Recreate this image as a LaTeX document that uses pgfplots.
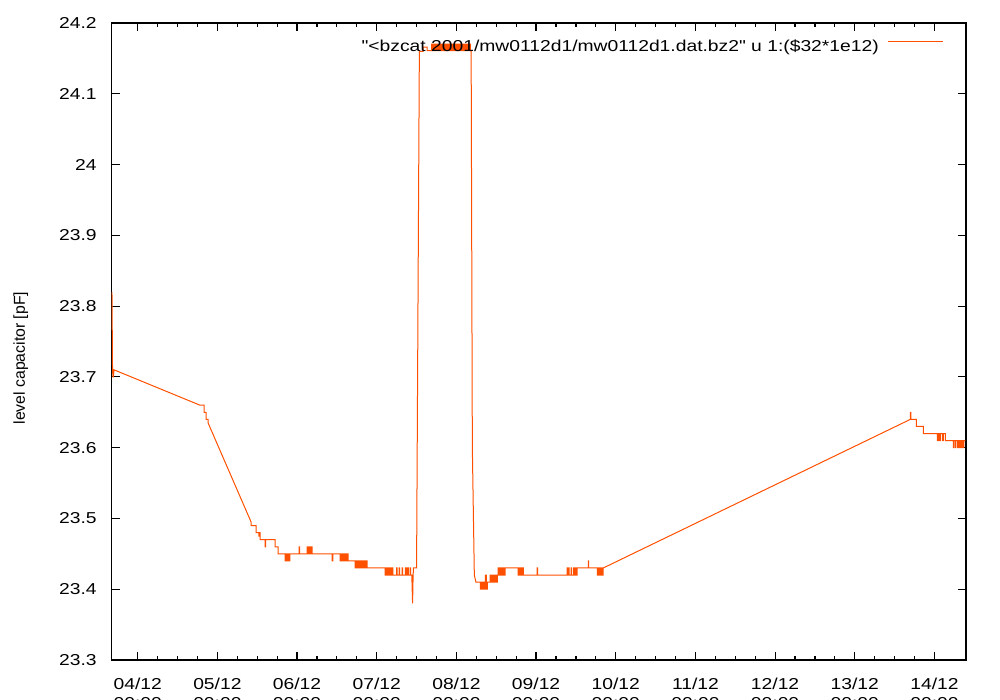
\documentclass[border=0pt]{standalone}
\usepackage{fontspec}
\setmainfont{Liberation Sans}[FakeStretch=1.22, Ligatures=TeXOff]
\newfontfamily\ylfont{Liberation Sans}[Ligatures=TeXOff]
\usepackage{pgfplots}
\pgfplotsset{compat=1.18}
\definecolor{gpline}{RGB}{255,80,0}
\begin{document}
\begin{tikzpicture}[font=\fontsize{7.9bp}{9.5bp}\selectfont]
\begin{axis}[
  at={(0,0)}, anchor=south west,
  scale only axis, width=427.15bp, height=318.5bp,
  xmin=-0.3265, xmax=10.396, ymin=23.3, ymax=24.2,
  xtick={0,1,2,3,4,5,6,7,8,9,10},
  xticklabels={04/12\\00:00,05/12\\00:00,06/12\\00:00,07/12\\00:00,08/12\\00:00,09/12\\00:00,10/12\\00:00,11/12\\00:00,12/12\\00:00,13/12\\00:00,14/12\\00:00},
  minor x tick num=3,
  ytick={23.3,23.4,23.5,23.6,23.7,23.8,23.9,24,24.1,24.2},
  yticklabels={23.3,23.4,23.5,23.6,23.7,23.8,23.9,24,24.1,24.2},
  tick align=inside, tick pos=both,
  major tick length=4bp, minor tick length=1.8bp,
  axis line style={line width=0.8bp},
  every tick/.style={black, line width=0.6bp},
  xticklabel style={align=center, yshift=-5.4bp},
  yticklabel style={xshift=-4bp},
  ylabel={level capacitor [pF]},
  ylabel style={at={(axis description cs:-0.1015,0.474)}, anchor=base, font=\ylfont\fontsize{7.9bp}{9.5bp}\selectfont},
  legend style={draw=none, fill=none, at={(axis description cs:0.9815,0.985)}, anchor=north east, nodes={inner sep=1.5bp}, column sep=3bp},
  legend plot pos=right, legend cell align=right,
  legend image code/.code={\draw[#1] (0bp,2.8bp) -- (27.5bp,2.8bp);},
]
\addplot[gpline, line width=0.5bp] coordinates {
(-0.323,23.82) (-0.316,23.71) (-0.311,23.70) (-0.305,23.70) (-0.298,23.71)
(0.782,23.66)
(0.833,23.66) (0.833,23.65) (0.858,23.65) (0.858,23.64) (0.883,23.64) (0.883,23.635)
(1.423,23.495) (1.423,23.49) (1.485,23.49) (1.485,23.48) (1.52,23.48) (1.52,23.475) (1.526,23.475) (1.526,23.48) (1.535,23.48) (1.535,23.47)
(1.598,23.47) (1.598,23.46) (1.604,23.46) (1.604,23.47)
(1.724,23.47) (1.724,23.46) (1.762,23.46) (1.762,23.45) (1.85,23.45)
(1.85,23.44) (1.862,23.44) (1.862,23.45) (1.874,23.45) (1.874,23.44) (1.886,23.44) (1.886,23.45) (1.898,23.45) (1.898,23.44) (1.91,23.44) (1.91,23.45)
(2.026,23.45) (2.026,23.46) (2.032,23.46) (2.032,23.45)
(2.126,23.45) (2.126,23.46) (2.138,23.46) (2.138,23.45) (2.150,23.45) (2.150,23.46) (2.162,23.46) (2.162,23.45) (2.174,23.45) (2.174,23.46) (2.189,23.46) (2.189,23.45)
(2.44,23.45) (2.44,23.44) (2.448,23.44) (2.448,23.45)
(2.541,23.45) (2.541,23.44) (2.553,23.44) (2.553,23.45) (2.565,23.45) (2.565,23.44) (2.577,23.44) (2.577,23.45) (2.589,23.45) (2.589,23.44) (2.601,23.44) (2.601,23.45) (2.613,23.45) (2.613,23.44) (2.625,23.44) (2.625,23.45) (2.641,23.45) (2.641,23.44)
(2.729,23.44) (2.729,23.43) (2.741,23.43) (2.741,23.44) (2.754,23.44) (2.754,23.43) (2.766,23.43) (2.766,23.44) (2.779,23.44) (2.779,23.43) (2.791,23.43) (2.791,23.44) (2.804,23.44) (2.804,23.43) (2.816,23.43) (2.816,23.44) (2.829,23.44) (2.829,23.43) (2.841,23.43) (2.841,23.44) (2.854,23.44) (2.854,23.43) (2.866,23.43) (2.866,23.44) (2.88,23.44) (2.88,23.43)
(3.106,23.43) (3.106,23.42) (3.118,23.42) (3.118,23.43) (3.130,23.43) (3.130,23.42) (3.142,23.42) (3.142,23.43) (3.154,23.43) (3.154,23.42) (3.166,23.42) (3.166,23.43) (3.178,23.43) (3.178,23.42) (3.190,23.42) (3.190,23.43) (3.202,23.43) (3.202,23.42)
(3.25,23.42) (3.25,23.43) (3.256,23.43) (3.256,23.42)
(3.28,23.42) (3.28,23.43) (3.286,23.43) (3.286,23.42)
(3.32,23.42) (3.32,23.43) (3.326,23.43) (3.326,23.42)
(3.36,23.42) (3.36,23.43) (3.372,23.43) (3.372,23.42) (3.384,23.42) (3.384,23.43) (3.396,23.43) (3.396,23.42)
(3.42,23.42) (3.42,23.43) (3.426,23.43) (3.426,23.42)
(3.44,23.42) (3.445,23.40) (3.45,23.38) (3.455,23.41) (3.46,23.43) (3.50,23.43) (3.535,24.16)
(3.583,24.16) (3.583,24.166) (3.633,24.166) (3.633,24.161)
(3.690,24.161) (3.690,24.17) (3.702,24.17) (3.702,24.161) (3.714,24.161) (3.714,24.17) (3.726,24.17) (3.726,24.161) (3.738,24.161) (3.738,24.17) (3.750,24.17) (3.750,24.161) (3.762,24.161) (3.762,24.17) (3.774,24.17) (3.774,24.161) (3.786,24.161) (3.786,24.17) (3.798,24.17) (3.798,24.161) (3.810,24.161) (3.810,24.17) (3.822,24.17) (3.822,24.161) (3.834,24.161) (3.834,24.17) (3.846,24.17) (3.846,24.161) (3.858,24.161) (3.858,24.17) (3.870,24.17) (3.870,24.161) (3.882,24.161) (3.882,24.17) (3.894,24.17) (3.894,24.161) (3.906,24.161) (3.906,24.17) (3.918,24.17) (3.918,24.161) (3.930,24.161) (3.930,24.17) (3.942,24.17) (3.942,24.161) (3.954,24.161) (3.954,24.17) (3.966,24.17) (3.966,24.161) (3.978,24.161) (3.978,24.17) (3.990,24.17) (3.990,24.161) (4.002,24.161) (4.002,24.17) (4.014,24.17) (4.014,24.161) (4.026,24.161) (4.026,24.17) (4.038,24.17) (4.038,24.161) (4.050,24.161) (4.050,24.17) (4.062,24.17) (4.062,24.161) (4.074,24.161) (4.074,24.17) (4.086,24.17) (4.086,24.161) (4.098,24.161) (4.098,24.17) (4.110,24.17) (4.110,24.161) (4.122,24.161) (4.122,24.17) (4.134,24.17) (4.134,24.161) (4.146,24.161) (4.146,24.17) (4.158,24.17) (4.158,24.161) (4.170,24.161) (4.170,24.17) (4.176,24.17) (4.176,24.161)
(4.185,24.16) (4.20,23.60) (4.225,23.42) (4.245,23.41) (4.30,23.41)
(4.30,23.40) (4.3125,23.40) (4.3125,23.41) (4.325,23.41) (4.325,23.40) (4.3375,23.40) (4.3375,23.41) (4.35,23.41) (4.35,23.40) (4.3625,23.40) (4.3625,23.42) (4.375,23.42) (4.375,23.40) (4.3875,23.40) (4.3875,23.41) (4.40,23.41)
(4.424,23.41) (4.424,23.42) (4.436,23.42) (4.436,23.41) (4.448,23.41) (4.448,23.42) (4.460,23.42) (4.460,23.41) (4.472,23.41) (4.472,23.42) (4.484,23.42) (4.484,23.41) (4.496,23.41) (4.496,23.42) (4.508,23.42) (4.508,23.41) (4.513,23.41) (4.513,23.42)
(4.525,23.42) (4.525,23.43) (4.537,23.43) (4.537,23.42) (4.549,23.42) (4.549,23.43) (4.561,23.43) (4.561,23.42) (4.573,23.42) (4.573,23.43) (4.585,23.43) (4.585,23.42) (4.597,23.42) (4.597,23.43) (4.609,23.43) (4.609,23.42) (4.612,23.42) (4.612,23.43)
(4.776,23.43) (4.776,23.42) (4.788,23.42) (4.788,23.43) (4.800,23.43) (4.800,23.42) (4.812,23.42) (4.812,23.43) (4.824,23.43) (4.824,23.42) (4.836,23.42) (4.836,23.43) (4.839,23.43) (4.839,23.42)
(5.014,23.42) (5.014,23.43) (5.02,23.43) (5.02,23.42)
(5.391,23.42) (5.391,23.43) (5.397,23.43) (5.397,23.42) (5.41,23.42) (5.41,23.43) (5.416,23.43) (5.416,23.42) (5.44,23.42) (5.44,23.43) (5.446,23.43) (5.446,23.42)
(5.47,23.42) (5.47,23.43) (5.482,23.43) (5.482,23.42) (5.494,23.42) (5.494,23.43) (5.506,23.43) (5.506,23.42) (5.516,23.42) (5.516,23.43)
(5.655,23.43) (5.655,23.44) (5.661,23.44) (5.661,23.43)
(5.768,23.43) (5.768,23.42) (5.780,23.42) (5.780,23.43) (5.792,23.43) (5.792,23.42) (5.804,23.42) (5.804,23.43) (5.816,23.43) (5.816,23.42) (5.828,23.42) (5.828,23.43) (5.840,23.43) (5.840,23.42) (5.843,23.42) (5.843,23.43)
(9.698,23.64) (9.698,23.65) (9.704,23.65) (9.704,23.64)
(9.774,23.64) (9.774,23.63) (9.862,23.63) (9.862,23.62)
(10.038,23.62) (10.038,23.61) (10.05,23.61) (10.05,23.62) (10.062,23.62) (10.062,23.61) (10.074,23.61) (10.074,23.62) (10.10,23.62) (10.10,23.61) (10.112,23.61) (10.112,23.62) (10.138,23.62) (10.138,23.61)
(10.239,23.61) (10.239,23.60) (10.245,23.60) (10.245,23.61) (10.262,23.61) (10.262,23.60) (10.268,23.60) (10.268,23.61) (10.29,23.61) (10.29,23.60) (10.296,23.60) (10.296,23.61) (10.31,23.61) (10.31,23.60) (10.322,23.60) (10.322,23.61) (10.334,23.61) (10.334,23.60) (10.346,23.60) (10.346,23.61) (10.358,23.61) (10.358,23.60) (10.37,23.60) (10.37,23.61) (10.389,23.61)
};
\addlegendentry{"<bzcat 2001/mw0112d1/mw0112d1.dat.bz2" u 1:(\$32*1e12)}
\end{axis}
\pgfresetboundingbox
\path[use as bounding box] (-55.85bp,-20bp) rectangle (444.15bp,330bp);
\end{tikzpicture}
\end{document}
